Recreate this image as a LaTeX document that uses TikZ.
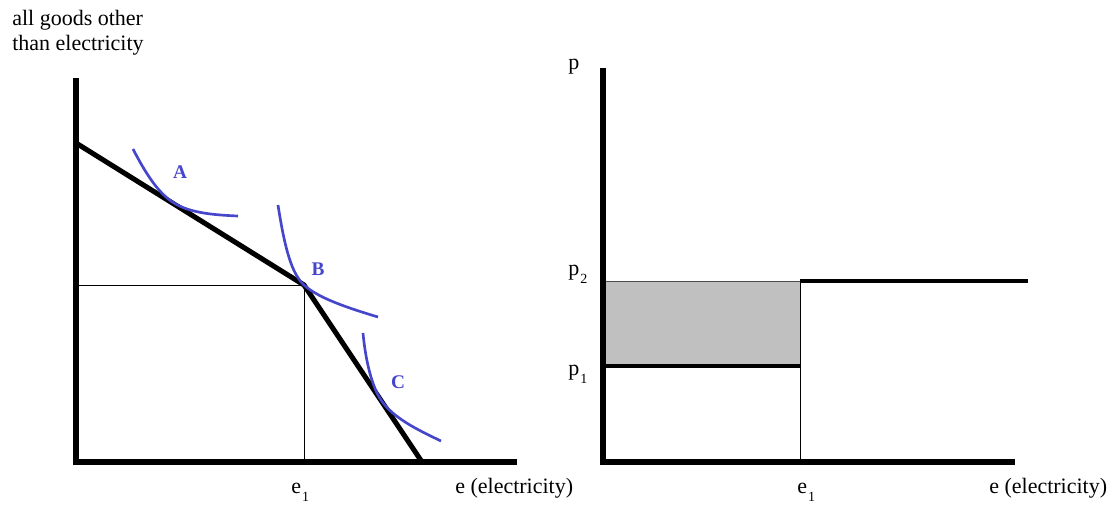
\documentclass[tikz,border=0pt]{standalone}
\usepackage{fontspec}
\setmainfont{Liberation Serif}
\definecolor{curveblue}{RGB}{70,70,205}
\definecolor{boxgray}{RGB}{192,192,192}
\newcommand\lowsub[1]{\kern0.8pt\raisebox{-6.5pt}{\fontsize{10.5}{12}\selectfont #1}}
\begin{document}
\begin{tikzpicture}[x=0.75pt,y=-0.75pt,
  axisline/.style={line width=3.8pt, line join=miter},
  budget/.style={line width=3.8pt, line join=miter},
  priceline/.style={line width=3.2pt},
  thinline/.style={line width=0.7pt},
  icurve/.style={line width=2pt, draw=curveblue},
  lbl/.style={font=\fontsize{16.5}{20}\selectfont, inner sep=0pt},
  ptlbl/.style={font=\fontsize{14.5}{17}\selectfont\bfseries, text=curveblue, inner sep=0pt}]
\useasboundingbox (0,0) rectangle (1117,504);

% ---------- left panel ----------
\coordinate (LTop) at (76,78);
\coordinate (LOrig) at (76,462);
\coordinate (LEnd) at (517,462);
\coordinate (LInt) at (76,143);
\coordinate (Kink) at (304,285);
\coordinate (XInt) at (422,462);
\coordinate (HStart) at (73,285);
\coordinate (KinkFoot) at (304,462);

\draw[thinline] (HStart) -- (Kink);
\draw[thinline] (Kink) -- (KinkFoot);
\draw[axisline] (LTop) -- (LOrig) -- (LEnd);
\draw[budget] (LInt) -- (Kink) -- (XInt);

% indifference curves
\coordinate (A0) at (133,149);
\coordinate (A1) at (174,203);
\coordinate (A2) at (238,216);
\draw[icurve] (A0) .. controls (148,178) and (160,194.3) .. (A1)
                   .. controls (190,213) and (214,215) .. (A2);
\coordinate (B0) at (278,205);
\coordinate (B2) at (378,317);
\draw[icurve] (B0) .. controls (285,250) and (292,274) .. (Kink)
                   .. controls (318,298) and (348,308) .. (B2);
\coordinate (C0) at (363,333);
\coordinate (C1) at (381,400);
\coordinate (C2) at (441,441);
\draw[icurve] (C0) .. controls (366,365) and (373,388) .. (C1)
                   .. controls (393,418) and (418,430) .. (C2);

\node[ptlbl] (labA) at (180,172) {A};
\node[ptlbl] (labB) at (318,269) {B};
\node[ptlbl] (labC) at (398,382) {C};

\node[lbl, anchor=base west] (ylab1) at (12,25) {all goods other};
\node[lbl, anchor=base west] (ylab2) at (12,50) {than electricity};
\node[lbl, anchor=base west] (e1L) at (291,493) {e\lowsub{1}};
\node[lbl, anchor=base west] (xlabL) at (455,493) {e (electricity)};

% ---------- right panel ----------
\coordinate (RTop) at (603,68);
\coordinate (ROrig) at (603,462);
\coordinate (REnd) at (1015,462);
\coordinate (P2a) at (603,281);
\coordinate (P2b) at (800,281);
\coordinate (P2c) at (1028,281);
\coordinate (P1a) at (603,366);
\coordinate (P1b) at (800,366);
\coordinate (E1R) at (800,462);

\draw[thinline, draw=black!70, fill=boxgray] (P2a) rectangle (P1b);
\draw[thinline] (P2b) -- (E1R);
\draw[priceline] (P1a) -- (P1b);
\draw[priceline] (P2b) -- (P2c);
\draw[axisline] (RTop) -- (ROrig) -- (REnd);

\node[lbl, anchor=base west] (plab) at (568,69) {p};
\node[lbl, anchor=base west] (p2lab) at (568,275) {p\lowsub{2}};
\node[lbl, anchor=base west] (p1lab) at (568,375) {p\lowsub{1}};
\node[lbl, anchor=base west] (e1R) at (797,493) {e\lowsub{1}};
\node[lbl, anchor=base west] (xlabR) at (989,493) {e (electricity)};
\end{tikzpicture}
\end{document}
